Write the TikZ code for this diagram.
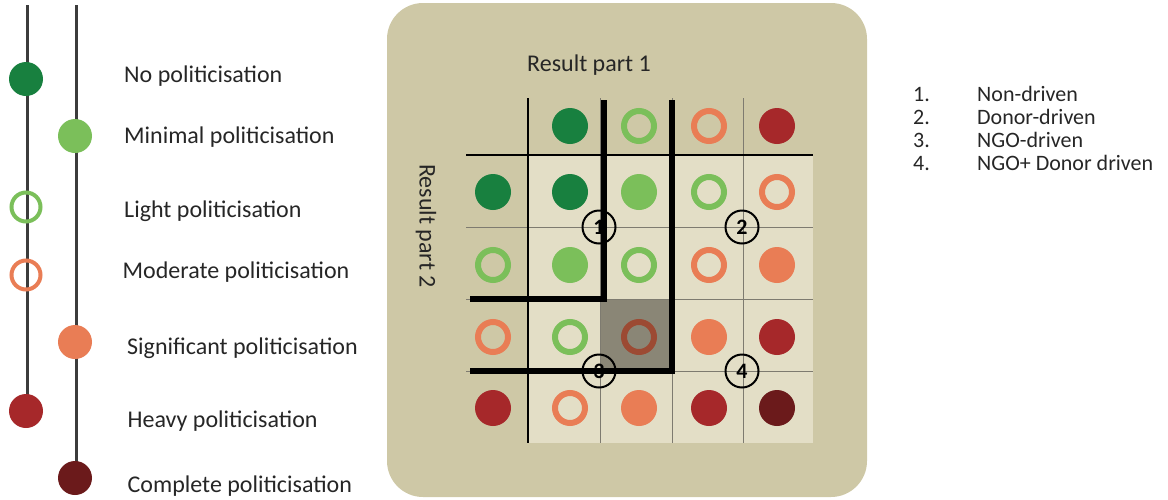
\documentclass[tikz,border=0pt]{standalone}
\usepackage{fontspec}
\setmainfont{Carlito}
\definecolor{dgreen}{HTML}{18803F}
\definecolor{lgreen}{HTML}{7BBF5A}
\definecolor{orng}{HTML}{E97D55}
\definecolor{rd}{HTML}{A6282A}
\definecolor{drd}{HTML}{6B1A1B}
\definecolor{panel}{HTML}{CEC8A6}
\definecolor{cellc}{HTML}{E3DEC6}
\definecolor{shadec}{HTML}{8A8676}
\definecolor{shring}{HTML}{9C4A33}
\definecolor{txt}{HTML}{262626}
\definecolor{axisc}{HTML}{3C3C3C}
\definecolor{gridc}{HTML}{7E7B70}
\begin{document}
\begin{tikzpicture}[x=1pt,y=-1pt,
 lfill/.style={circle,fill=#1,minimum size=34pt,inner sep=0pt},
 lring/.style={circle,draw=#1,line width=4pt,minimum size=29pt,inner sep=0pt},
 gfill/.style={circle,fill=#1,minimum size=36pt,inner sep=0pt},
 gring/.style={circle,draw=#1,line width=6pt,minimum size=30pt,inner sep=0pt},
 ltext/.style={anchor=base west,inner sep=0pt,text=txt,font=\fontsize{24}{28}\selectfont},
 rtext/.style={anchor=base west,inner sep=0pt,text=txt,font=\fontsize{22}{26}\selectfont},
 numc/.style={circle,draw=black,line width=2pt,minimum size=33pt,inner sep=0pt,font=\fontsize{22}{26}\selectfont\bfseries},
 gline/.style={draw=gridc,line width=1pt},
 bline/.style={draw=black,line width=2pt},
 tline/.style={draw=black,line width=5.5pt,line join=miter},
 axline/.style={draw=axisc,line width=3pt}]
\useasboundingbox (0,0) rectangle (1168,499);

% ---------- left legend ----------
\coordinate (top1) at (27,5);
\coordinate (top2) at (76,5);
\coordinate (bot1) at (27,411);
\coordinate (bot2) at (76,478);
\draw[axline] (top1) -- (bot1);
\draw[axline] (top2) -- (bot2);
\node[lfill=dgreen] (lno) at (26,79) {};
\node[lfill=lgreen] (lmin) at (75,136) {};
\node[lring=lgreen] (llight) at (26,207) {};
\node[lring=orng] (lmod) at (26,275) {};
\node[lfill=orng] (lsig) at (75,342) {};
\node[lfill=rd] (lheavy) at (26,411) {};
\node[lfill=drd] (lcomp) at (75,478) {};
\node[ltext] (tno) at (124,82) {No politicisation};
\node[ltext] (tmin) at (124,143) {Minimal politicisation};
\node[ltext] (tlight) at (124,217) {Light politicisation};
\node[ltext] (tmod) at (122.5,278) {Moderate politicisation};
\node[ltext] (tsig) at (127,354) {Significant politicisation};
\node[ltext] (theavy) at (127.5,427) {Heavy politicisation};
\node[ltext] (tcomp) at (127.5,492) {Complete politicisation};

% ---------- panel ----------
\fill[panel, rounded corners=36pt] (387,3) rectangle (867,497);
\fill[cellc] (528,155) rectangle (813,443);
\fill[shadec] (600,299) rectangle (672,371);

\node[ltext] (r1) at (527,71) {Result part 1};
\node[text=txt,font=\fontsize{24}{28}\selectfont,rotate=-90,inner sep=0pt] (r2) at (426,226) {Result part 2};

% thin grid
\foreach \x in {600,672,743} \draw[gline] (\x,98) -- (\x,443);
\foreach \y in {227,299,371} \draw[gline] (466,\y) -- (813,\y);
% black axes
\draw[bline] (528,98) -- (528,443);
\draw[bline] (466,155) -- (813,155);

% header row
\node[gfill=dgreen] (h1) at (570,126) {};
\node[gring=lgreen] (h2) at (639,126) {};
\node[gring=orng] (h3) at (709,126) {};
\node[gfill=rd] (h4) at (777,126) {};
% row 1
\node[gfill=dgreen] (a0) at (493,192) {};
\node[gfill=dgreen] (a1) at (570,192) {};
\node[gfill=lgreen] (a2) at (639,192) {};
\node[gring=lgreen] (a3) at (709,192) {};
\node[gring=orng] (a4) at (777,192) {};
% row 2
\node[gring=lgreen] (b0) at (493,265) {};
\node[gfill=lgreen] (b1) at (570,265) {};
\node[gring=lgreen] (b2) at (639,265) {};
\node[gring=orng] (b3) at (709,265) {};
\node[gfill=orng] (b4) at (777,265) {};
% row 3
\node[gring=orng] (c0) at (493,337) {};
\node[gring=lgreen] (c1) at (570,337) {};
\node[gring=shring] (c2) at (639,337) {};
\node[gfill=orng] (c3) at (709,337) {};
\node[gfill=rd] (c4) at (777,337) {};
% row 4
\node[gfill=rd] (d0) at (493,408) {};
\node[gring=orng] (d1) at (570,408) {};
\node[gfill=orng] (d2) at (639,408) {};
\node[gfill=rd] (d3) at (709,408) {};
\node[gfill=drd] (d4) at (777,408) {};

% circled numbers
\node[numc] (n1) at (599,227) {1};
\node[numc] (n2) at (742,227) {2};
\node[numc] (n3) at (599,371) {3};
\node[numc] (n4) at (742,371) {4};

% thick boundaries
\coordinate (k1a) at (470,299);
\coordinate (k1b) at (604,299);
\coordinate (k1c) at (604,100);
\coordinate (k2a) at (470,371);
\coordinate (k2b) at (672,371);
\coordinate (k2c) at (672,100);
\draw[tline] (k1a) -- (k1b) -- (k1c);
\draw[tline] (k2a) -- (k2b) -- (k2c);

% ---------- right legend ----------
\node[rtext] (m1) at (913,101) {1.};
\node[rtext] (m2) at (913,124) {2.};
\node[rtext] (m3) at (913,147) {3.};
\node[rtext] (m4) at (913,170) {4.};
\node[rtext] (e1) at (977,101) {Non-driven};
\node[rtext] (e2) at (977,124) {Donor-driven};
\node[rtext] (e3) at (977,147) {NGO-driven};
\node[rtext] (e4) at (977,170) {NGO+ Donor driven};
\end{tikzpicture}
\end{document}
